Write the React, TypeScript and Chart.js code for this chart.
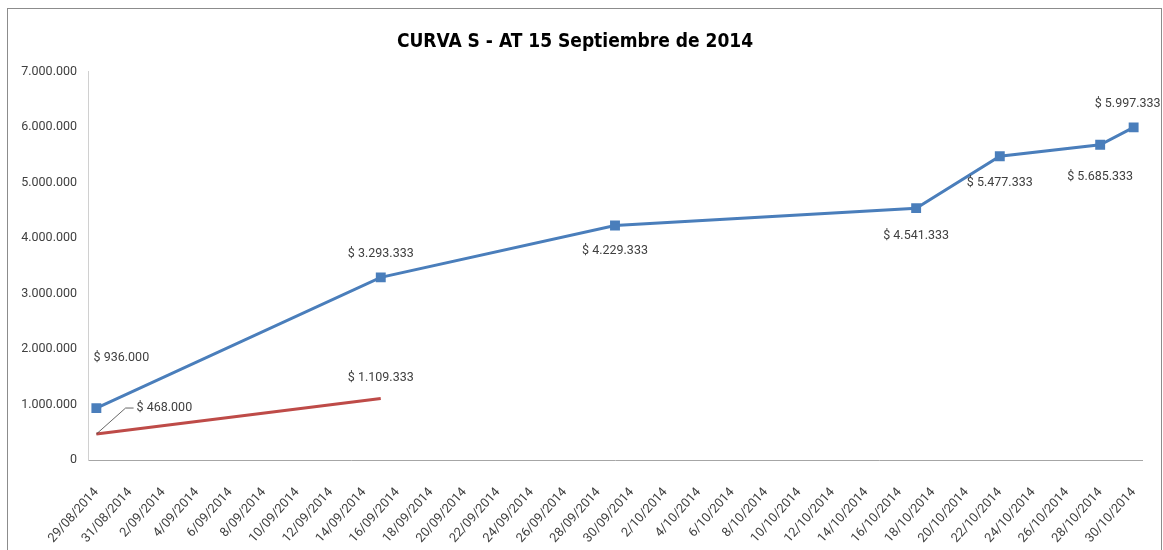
import React, { useEffect, useRef } from "react";
import { Chart, registerables } from "chart.js";

Chart.register(...registerables);

const titleText = "CURVA S - AT 15 Septiembre de 2014";

const plannedDates = ["29/08/2014", "15/09/2014", "29/09/2014", "17/10/2014", "22/10/2014", "28/10/2014", "30/10/2014"];
const plannedValues = [936000, 3293333, 4229333, 4541333, 5477333, 5685333, 5997333];

const actualDates = ["29/08/2014", "15/09/2014"];
const actualValues = [468000, 1109333];

const axisStartDate = "29/08/2014";
const axisEndDate = "30/10/2014";
const tickStepDays = 2;
const yMin = 0;
const yMax = 7000000;
const yStep = 1000000;

// label placement offsets (dx, dy) in pixels relative to each point
const plannedLabelOffsets: [number, number][] = [[25, -50], [0, -23], [0, 25], [0, 28], [0, 27], [0, 32], [-6, -24]];
const actualLabelOffsets: [number, number][] = [[68, -26], [0, -21]];

const DAY = 86400000;
const parseDate = (s: string) => {
  const [d, m, y] = s.split("/").map(Number);
  return Date.UTC(y, m - 1, d);
};
const base = parseDate(axisStartDate);
const toDay = (s: string) => Math.round((parseDate(s) - base) / DAY);
const fmtDate = (v: number) => {
  const dt = new Date(base + v * DAY);
  const d = dt.getUTCDate();
  const m = String(dt.getUTCMonth() + 1).padStart(2, "0");
  return `${d}/${m}/${dt.getUTCFullYear()}`;
};
const fmtNum = (n: number) => String(Math.round(n)).replace(/\B(?=(\d{3})+(?!\d))/g, ".");

const FONT = "Roboto, 'DejaVu Sans Condensed', sans-serif";

const labelPlugin = {
  id: "pointLabels",
  afterDatasetsDraw(chart: any) {
    const ctx = chart.ctx;
    ctx.save();
    ctx.font = `12.5px ${FONT}`;
    ctx.fillStyle = "#404040";
    ctx.textAlign = "center";
    ctx.textBaseline = "middle";
    chart.data.datasets.forEach((ds: any, di: number) => {
      const meta = chart.getDatasetMeta(di);
      const offs: [number, number][] = ds.labelOffsets || [];
      meta.data.forEach((el: any, i: number) => {
        const v = ds.data[i].y;
        const [dx, dy] = offs[i] || [0, -20];
        const text = `$ ${fmtNum(v)}`;
        const tx = el.x + dx;
        const ty = el.y + dy;
        ctx.fillText(text, tx, ty);
        if (ds.leaderIndex === i) {
          const w = ctx.measureText(text).width;
          const lx = tx - w / 2 - 3;
          ctx.strokeStyle = "#404040";
          ctx.lineWidth = 0.8;
          ctx.beginPath();
          ctx.moveTo(el.x, el.y);
          ctx.lineTo(lx - 8, ty);
          ctx.lineTo(lx, ty);
          ctx.stroke();
        }
      });
    });
    ctx.restore();
  },
};

export default function App() {
  const ref = useRef<HTMLCanvasElement>(null);
  useEffect(() => {
    if (!ref.current) return;
    const startDay = toDay(axisStartDate);
    const endDay = toDay(axisEndDate);
    const chart = new Chart(ref.current, {
      type: "line",
      data: {
        datasets: [
          {
            label: "Programado",
            data: plannedDates.map((d, i) => ({ x: toDay(d), y: plannedValues[i] })),
            borderColor: "#4a7ebb",
            backgroundColor: "#4a7ebb",
            borderWidth: 3,
            pointStyle: "rect",
            pointRadius: 7,
            pointHoverRadius: 7,
            pointBorderWidth: 0,
            tension: 0,
            labelOffsets: plannedLabelOffsets,
          } as any,
          {
            label: "Ejecutado",
            data: actualDates.map((d, i) => ({ x: toDay(d), y: actualValues[i] })),
            borderColor: "#be4b48",
            backgroundColor: "#be4b48",
            borderWidth: 3,
            pointRadius: 0,
            tension: 0,
            labelOffsets: actualLabelOffsets,
            leaderIndex: 0,
          } as any,
        ],
      },
      options: {
        animation: false,
        responsive: false,
        layout: { padding: { left: 0, right: 19, top: 0, bottom: 0 } },
        plugins: {
          legend: { display: false },
          tooltip: { enabled: false },
          title: {
            display: true,
            text: titleText,
            color: "#000000",
            font: { family: "'DejaVu Sans Condensed', Roboto, sans-serif", size: 19, weight: "bold", lineHeight: 1.2 },
            padding: { top: 22, bottom: 18 },
          },
        },
        scales: {
          x: {
            type: "linear",
            min: startDay - 0.5,
            max: endDay + 0.5,
            afterBuildTicks: (scale: any) => {
              const t = [];
              for (let v = startDay; v <= endDay; v += tickStepDays) t.push({ value: v });
              scale.ticks = t;
            },
            afterFit: (scale: any) => {
              scale.height = 90;
              scale.paddingLeft = 0;
              scale.paddingRight = 0;
            },
            grid: { display: false, drawTicks: false },
            border: { display: true, color: "#a6a6a6", width: 1 },
            ticks: {
              autoSkip: false,
              minRotation: 48,
              maxRotation: 48,
              padding: 25,
              color: "#404040",
              font: { family: FONT, size: 12.8 },
              callback: (v: any) => fmtDate(Number(v)),
            },
          },
          y: {
            min: yMin,
            max: yMax,
            afterFit: (scale: any) => {
              scale.width = 80;
            },
            grid: { display: false, drawTicks: false },
            border: { display: true, color: "#d0d0d0", width: 1 },
            ticks: {
              stepSize: yStep,
              padding: 11,
              color: "#404040",
              font: { family: FONT, size: 12.5 },
              callback: (v: any) => fmtNum(Number(v)),
            },
          },
        },
      },
      plugins: [labelPlugin],
    });
    return () => chart.destroy();
  }, []);

  return (
    <div
      style={{
        position: "fixed",
        left: 7,
        top: 8,
        width: 1155,
        height: 542,
        boxSizing: "border-box",
        border: "1px solid #8c8c8c",
        borderBottom: "none",
        background: "#fff",
      }}
    >
      <canvas ref={ref} width={1153} height={541} style={{ display: "block" }} />
    </div>
  );
}
